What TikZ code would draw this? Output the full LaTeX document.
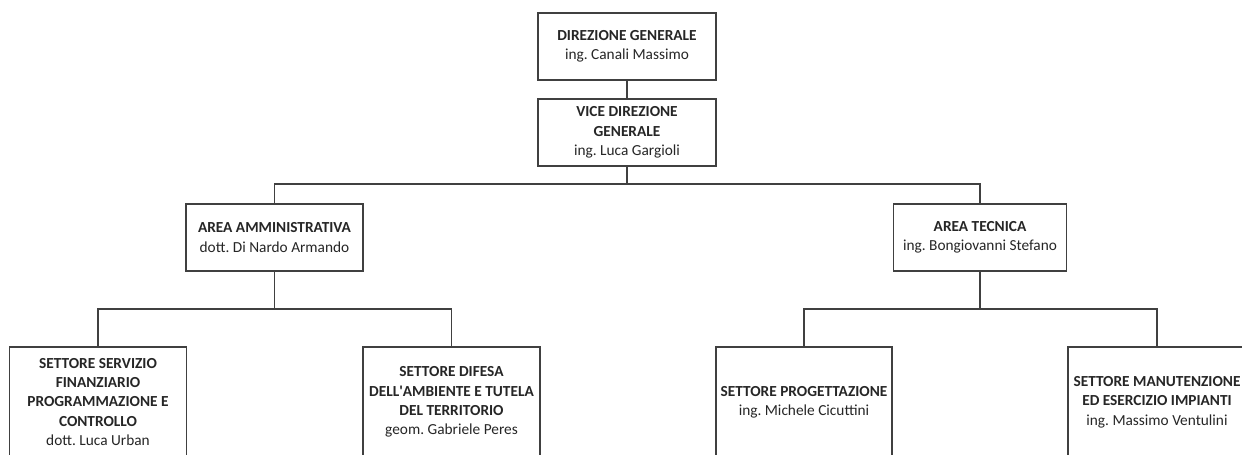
\documentclass[tikz,border=0pt]{standalone}
\usepackage{fontspec}
\setmainfont{Carlito}
\usepackage{tikz}

\begin{document}
\frenchspacing
\begin{tikzpicture}[x=0.75pt, y=-0.75pt,
    box/.style={draw=black!75, line width=1pt, fill=white, align=center, text=black!85,
        font=\fontsize{11.5}{14.5}\selectfont, inner sep=2pt},
    link/.style={draw=black!75, line width=1pt}]
    \clip (0,0) rectangle (1242,454);
    % Direzione
    \node[box, minimum width=133.5pt, minimum height=50.25pt] (dg) at (627,46.5)
        {\textbf{DIREZIONE GENERALE}\\ing. Canali Massimo};
    \node[box, minimum width=133.5pt, minimum height=50.25pt] (vd) at (627,132.5)
        {\textbf{VICE DIREZIONE}\\\textbf{GENERALE}\\ing. Luca Gargioli};
    % Aree
    \node[box, minimum width=132.75pt, minimum height=50.25pt] (aa) at (274.5,237.5)
        {\textbf{AREA AMMINISTRATIVA}\\dott. Di Nardo Armando};
    \node[box, minimum width=130pt, minimum height=50.25pt] (at) at (980,237.5)
        {\textbf{AREA TECNICA}\\ing. Bongiovanni Stefano};
    % Settori
    \node[box, minimum width=132.75pt, minimum height=82.5pt] (sf) at (98,402)
        {\textbf{SETTORE SERVIZIO}\\\textbf{FINANZIARIO}\\\textbf{PROGRAMMAZIONE E}\\\textbf{CONTROLLO}\\dott. Luca Urban};
    \node[box, minimum width=132.75pt, minimum height=82.5pt] (sd) at (451.5,402)
        {\textbf{SETTORE DIFESA}\\\textbf{DELL\textquotesingle AMBIENTE E TUTELA}\\\textbf{DEL TERRITORIO}\\geom. Gabriele Peres};
    \node[box, minimum width=132pt, minimum height=82.5pt] (sp) at (804,402)
        {\textbf{SETTORE PROGETTAZIONE}\\ing. Michele Cicuttini};
    \node[box, minimum width=133.5pt, minimum height=82.5pt] (sm) at (1157,402)
        {\textbf{SETTORE MANUTENZIONE}\\\textbf{ED ESERCIZIO IMPIANTI}\\ing. Massimo Ventulini};
    % Collegamenti
    \coordinate (j0) at (627,184);
    \coordinate (ja) at (274.5,309);
    \coordinate (jt) at (980,309);
    \draw[link] (dg) -- (vd);
    \draw[link] (vd) -- (j0);
    \draw[link] (j0) -| (aa);
    \draw[link] (j0) -| (at);
    \draw[link] (aa) -- (ja);
    \draw[link] (ja) -| (sf);
    \draw[link] (ja) -| (sd);
    \draw[link] (at) -- (jt);
    \draw[link] (jt) -| (sp);
    \draw[link] (jt) -| (sm);
\end{tikzpicture}
\end{document}
